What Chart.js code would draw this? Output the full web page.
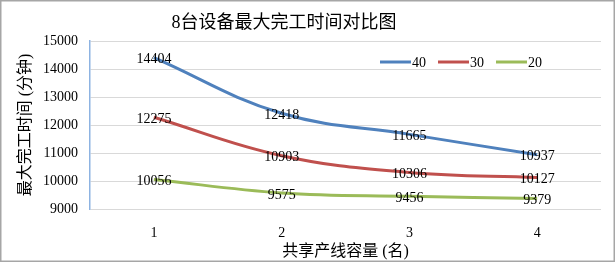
<!DOCTYPE html>
<html>
<head>
<meta charset="utf-8">
<script src="https://cdn.jsdelivr.net/npm/chart.js@4/dist/chart.umd.min.js"></script>
<style>
  html, body { margin: 0; padding: 0; background: #fff; }
  #wrap { width: 616px; height: 263px; position: relative; }
</style>
</head>
<body>
<div id="wrap"><canvas id="chart" width="616" height="263"></canvas></div>
<script>
const titleText = '8台设备最大完工时间对比图';
const categories = ['1', '2', '3', '4'];
const seriesNames = ['40', '30', '20'];
const series40 = [14404, 12418, 11665, 10937];
const series30 = [12275, 10903, 10306, 10127];
const series20 = [10056, 9575, 9456, 9379];
const yMin = 9000, yMax = 15000, yStep = 1000;
const colors = ['#4F81BD', '#C0504D', '#9BBB59'];

const serif = '"Liberation Serif", "Times New Roman", "Noto Sans CJK SC", serif';

// title, legend, point labels and frame drawn on top of the chart
const extras = {
  id: 'extras',
  afterDatasetsDraw(chart) {
    const ctx = chart.ctx;
    ctx.save();
    ctx.fillStyle = '#000';
    ctx.font = '14px ' + serif;
    ctx.textAlign = 'center';
    ctx.textBaseline = 'middle';
    chart.data.datasets.forEach((ds, i) => {
      chart.getDatasetMeta(i).data.forEach((pt, j) => {
        ctx.fillText(String(ds.data[j]), pt.x, pt.y + 2);
      });
    });
    ctx.restore();
  },
  afterDraw(chart) {
    const ctx = chart.ctx;
    ctx.save();
    // title
    ctx.fillStyle = '#000';
    ctx.font = '18px ' + serif;
    ctx.textAlign = 'center';
    ctx.textBaseline = 'middle';
    ctx.fillText(titleText, 284, 23);
    // legend
    ctx.font = '14px ' + serif;
    ctx.textAlign = 'left';
    let x = 380;
    chart.data.datasets.forEach((ds) => {
      ctx.strokeStyle = ds.borderColor;
      ctx.lineWidth = 3;
      ctx.beginPath();
      ctx.moveTo(x, 62);
      ctx.lineTo(x + 31, 62);
      ctx.stroke();
      ctx.fillText(ds.label, x + 32, 63);
      x += 58;
    });
    // outer frame
    ctx.strokeStyle = '#A6A6A6';
    ctx.lineWidth = 1.5;
    ctx.strokeRect(0.75, 0.75, 613.5, 260.5);
    ctx.restore();
  }
};

new Chart(document.getElementById('chart'), {
  type: 'line',
  data: {
    labels: categories,
    datasets: [
      { label: seriesNames[0], data: series40, borderColor: colors[0] },
      { label: seriesNames[1], data: series30, borderColor: colors[1] },
      { label: seriesNames[2], data: series20, borderColor: colors[2] }
    ].map(d => Object.assign(d, { borderWidth: 3, pointRadius: 0, tension: 0.4, fill: false }))
  },
  options: {
    responsive: false,
    animation: false,
    layout: { padding: { left: 12, right: 15, top: 41, bottom: 0 } },
    plugins: {
      legend: { display: false },
      title: { display: false },
      tooltip: { enabled: false }
    },
    scales: {
      x: {
        offset: true,
        grid: { display: false, drawTicks: false },
        border: { display: false },
        ticks: { color: '#000', font: { family: serif, size: 14 }, padding: 16 },
        title: { display: true, text: '共享产线容量 (名)', color: '#000', font: { family: serif, size: 16 }, padding: { top: 4, bottom: 2 } },
        afterFit: (s) => { s.height = 54; }
      },
      y: {
        min: yMin,
        max: yMax,
        ticks: { stepSize: yStep, color: '#000', font: { family: serif, size: 14 }, padding: 12, callback: (v) => String(v) },
        grid: { color: '#D9D9D9', drawTicks: false, lineWidth: 1 },
        border: { color: '#8DB3E2', width: 1.5 },
        title: { display: true, text: '最大完工时间 (分钟)', color: '#000', font: { family: serif, size: 16 }, padding: { bottom: 4 } },
        afterFit: (s) => { s.width = 78; }
      }
    }
  },
  plugins: [extras]
});
</script>
</body>
</html>
